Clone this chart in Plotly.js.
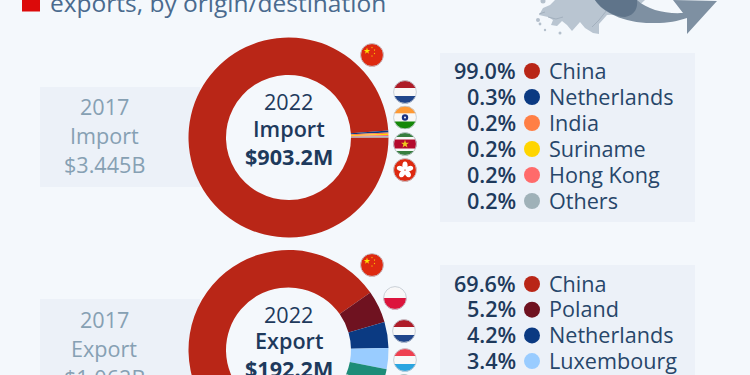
<!DOCTYPE html>
<html><head><meta charset="utf-8">
<script src="https://cdn.plot.ly/plotly-3.0.1.min.js"></script>
<style>html,body{margin:0;padding:0;width:750px;height:375px;overflow:hidden;background:#f4f8fc}
#wrap{width:750px;height:375px;overflow:hidden}</style></head>
<body><div id="wrap"><div id="chart"></div></div>
<script>
const importLabels = ['China','Netherlands','India','Suriname','Hong Kong','Others'];
const importValues = [99.0,0.3,0.2,0.2,0.2,0.2];
const importColors = ['#b92617','#0b3a82','#ff7f45','#ffd500','#ff6b6b','#9fb1b8'];
// The last two export slices fall below the cropped picture; their split is estimated.
const exportLabels = ['China','Poland','Netherlands','Luxembourg','Next destination','Others'];
const exportValues = [69.6,5.2,4.2,3.4,3.2,14.4];
const exportColors = ['#b92617','#6f1220','#0b3a82','#99ccff','#1d8c78','#9fb1b8'];
const importCenter = ['2022','Import','$903.2M'];
const exportCenter = ['2022','Export','$192.2M'];
const import2017 = ['2017','Import','$3.445B'];
const export2017 = ['2017','Export','$1.062B'];
const titleText = 'exports, by origin/destination';

const W=750,H=475;
const px=x=>x/W, py=y=>1-y/H;
const INK='#1e3a5c', MUTED='#86a0b3', BG='#f4f8fc', PANEL='#ecf1f8';
const FONT='"Open Sans", sans-serif';
const TS=21.6, DY=-0.8;

function pie(labels,values,colors,cx,cy,rot){
  return {type:'pie',labels,values,sort:false,direction:'clockwise',rotation:rot,hole:0.625,
    textinfo:'none',hoverinfo:'label+percent',showlegend:false,
    marker:{colors,line:{width:0}},
    domain:{x:[px(cx-100),px(cx+100)],y:[py(cy+100),py(cy-100)]}};
}
const anns=[],shapes=[],images=[];
function text(t,x,y,size,color,weight,anchor){
  anns.push({text:t,x:px(x),y:py(y+DY),xref:'paper',yref:'paper',showarrow:false,xanchor:anchor||'center',yanchor:'middle',
    font:{family:FONT,size,color,weight:weight||400},align:anchor||'center',borderpad:0,borderwidth:0});
}
function rect(x0,y0,x1,y1,color){
  shapes.push({type:'rect',xref:'paper',yref:'paper',x0:px(x0),x1:px(x1),y0:py(y0),y1:py(y1),fillcolor:color,line:{width:0},layer:'below'});
}
function dot(x,y,r,color){
  shapes.push({type:'circle',xref:'paper',yref:'paper',x0:px(x-r),x1:px(x+r),y0:py(y+r),y1:py(y-r),fillcolor:color,line:{width:0},layer:'above'});
}
function svgImage(body,x,y,w,h){
  const svg=`<svg xmlns="http://www.w3.org/2000/svg" width="${w*4}" height="${h*4}" viewBox="0 0 ${w} ${h}">${body}</svg>`;
  images.push({source:'data:image/svg+xml;charset=utf-8,'+encodeURIComponent(svg),xref:'paper',yref:'paper',
    x:px(x),y:py(y),sizex:w/W,sizey:h/H,xanchor:'left',yanchor:'top',sizing:'stretch',layer:'above'});
}
function star(cx,cy,r,c){
  let p=[];for(let i=0;i<10;i++){const a=-Math.PI/2+i*Math.PI/5,q=i%2?r*0.4:r;p.push((cx+q*Math.cos(a)).toFixed(2)+','+(cy+q*Math.sin(a)).toFixed(2));}
  return `<polygon points="${p.join(' ')}" fill="${c}"/>`;
}
const stripes=cs=>cs.map((c,i)=>`<rect x="0" y="${i*24/cs.length}" width="24" height="${24/cs.length+0.1}" fill="${c}"/>`).join('');
const flagArt={
  china:`<rect width="24" height="24" fill="#de2910"/>`+star(7,8,3.4,'#ffde00')+star(12,4.5,1,'#ffde00')+star(14.5,7,1,'#ffde00')+star(14.5,10.5,1,'#ffde00')+star(12,13,1,'#ffde00'),
  nl:stripes(['#ae1c28','#f8f8f8','#21468b']),
  india:stripes(['#ff9933','#f8f8f8','#138808'])+`<circle cx="12" cy="12" r="3.2" fill="#1a2f80"/><circle cx="12" cy="12" r="1" fill="#f8f8f8"/>`,
  suriname:`<rect width="24" height="24" fill="#377e3f"/><rect y="5" width="24" height="14" fill="#f8f8f8"/><rect y="7.5" width="24" height="9" fill="#b40a2d"/>`+star(12,12,4.2,'#ecc81d'),
  hk:`<rect width="24" height="24" fill="#de2910"/>`+[0,72,144,216,288].map(a=>`<ellipse cx="12" cy="7.5" rx="2.6" ry="4" fill="#fff" transform="rotate(${a} 12 12)"/>`).join(''),
  poland:`<rect width="24" height="12" fill="#f8f8f8"/><rect y="12" width="24" height="12" fill="#dc143c"/>`,
  lux:stripes(['#ef4050','#f8f8f8','#2aa5e0']),
  next:`<rect width="24" height="24" fill="#1f7a5c"/>`
};
let fid=0;
function flag(name,cx,cy){
  const id='c'+(fid++);
  svgImage(`<defs><clipPath id="${id}"><circle cx="12" cy="12" r="11.5"/></clipPath></defs><g clip-path="url(#${id})">${flagArt[name]}</g><circle cx="12" cy="12" r="11.4" fill="none" stroke="#c4ccd4" stroke-width="0.9"/>`,cx-12,cy-12,24,24);
}
function legend(labels,values,colors,y0,step){
  labels.forEach((l,i)=>{
    const y=y0+i*step;
    text(values[i].toFixed(1)+'%',515.5,y,TS,INK,600,'right');
    dot(532,y,8,colors[i]);
    text(l,549,y,TS,'#27466a',400,'left');
  });
}

// panels
rect(40,87,200,187,PANEL);
rect(40,299,200,399,PANEL);
rect(440,53,695,222,PANEL);
rect(440,265,695,430,PANEL);

// title
shapes.push({type:'rect',xref:'paper',yref:'paper',x0:px(22),x1:px(40),y0:py(11.5),y1:1.02,fillcolor:'#dc0a0a',line:{width:0}});
text(titleText,50,3.8,24.5,'#4a6a8e',400,'left');

// 2017 boxes
[107,136,165].forEach((y,i)=>text(import2017[i],104,y,TS,MUTED));
[320,349,378].forEach((y,i)=>text(export2017[i],104,y,TS,MUTED));
// centres
const cw=[400,600,700];
[102,129,157].forEach((y,i)=>text(importCenter[i],288.5,y,TS,INK,cw[i]));
[315,341,369].forEach((y,i)=>text(exportCenter[i],288.5,y,TS,INK,cw[i]));

legend(importLabels,importValues,importColors,71,26);
legend(exportLabels.slice(0,4),exportValues.slice(0,4),exportColors,284,25.7);

// flags
flag('china',372,55);flag('nl',405,92);flag('india',405,117.5);flag('suriname',405,144);flag('hk',405,170);
flag('china',372,265);flag('poland',395,298);flag('nl',404,331);flag('lux',405,360);flag('next',404,386);

// map + arrow decoration
svgImage(
 `<path d="M25,0 L20,5 L13,8 L9,15 L18,17 L23,20 L21,25 L27,26 L32,21 L37,25 L42,31 L50,22 L55,28 L63,33 L69,34 L69,24 L77,15 L100,14 L115,0 Z" fill="#b9c5d1"/>
  <g fill="#b4c0cc"><circle cx="8" cy="20" r="2"/><circle cx="10" cy="24" r="1.4"/><circle cx="15" cy="30" r="1.2"/><circle cx="30" cy="33" r="1.5"/><circle cx="13" cy="1" r="2.5"/></g>
  <path d="M9,14 L15,12 M18,17 L26,19 L33,17 M62,27 L69,20 L77,10 L90,9" stroke="#9dabb9" fill="none" stroke-width="0.8"/>
  <path d="M65,0 C72,12 95,24 125,23 C138,23 148,21 157,18 L157,34 L187,1 L143,0 L153,13 C135,14 118,10 107,0 Z" fill="#7e90a2"/>
  <path d="M65,0 C72,10 85,17 95,17 C105,15 108,8 107,0 Z" fill="#5f748a"/>`,
 530,0,190,40);

const data=[pie(importLabels,importValues,importColors,288.5,137.5,90),pie(exportLabels,exportValues,exportColors,288.5,350,164.4)];
Plotly.newPlot('chart',data,{width:W,height:H,margin:{l:0,r:0,t:0,b:0,pad:0},paper_bgcolor:BG,plot_bgcolor:BG,
  showlegend:false,annotations:anns,shapes,images,font:{family:FONT}},{displayModeBar:false,staticPlot:true});
</script></body></html>
